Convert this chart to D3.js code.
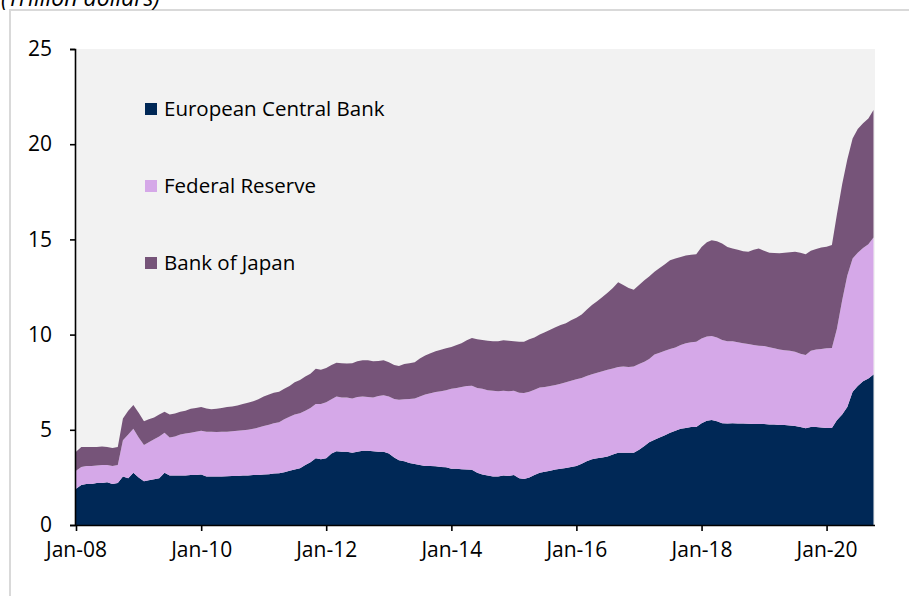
<!DOCTYPE html>
<html>
<head>
<meta charset="utf-8">
<script src="https://cdn.jsdelivr.net/npm/d3@7"></script>
<style>
  body { margin: 0; background: #fff; }
  svg { display: block; font-family: "Open Sans", "Noto Sans", sans-serif; }
</style>
</head>
<body>
<svg id="chart" width="909" height="596"></svg>
<script>
// monthly, Jan-08 .. Oct-20 (trillion dollars)
const startMonth = "2008-01";
const seriesNames = ["European Central Bank", "Federal Reserve", "Bank of Japan"];
const seriesColors = ["#002856", "#d5a8e8", "#765479"];

const ecb = [
  1.9, 2.1, 2.15, 2.15, 2.2, 2.2, 2.25, 2.15, 2.2, 2.55, 2.45, 2.75,
  2.5, 2.3, 2.35, 2.4, 2.45, 2.75, 2.6, 2.6, 2.6, 2.6, 2.62, 2.62,
  2.65, 2.55, 2.55, 2.55, 2.55, 2.56, 2.57, 2.58, 2.6, 2.6, 2.62, 2.63,
  2.65, 2.67, 2.7, 2.72, 2.77, 2.85, 2.92, 2.98, 3.15, 3.3, 3.5, 3.45,
  3.5, 3.75, 3.88, 3.85, 3.85, 3.8, 3.85, 3.9, 3.9, 3.88, 3.85, 3.85,
  3.75, 3.55, 3.4, 3.35, 3.25, 3.2, 3.15, 3.1, 3.1, 3.08, 3.05, 3.03,
  2.95, 2.95, 2.93, 2.92, 2.9, 2.75, 2.65, 2.6, 2.55, 2.55, 2.6, 2.58,
  2.62, 2.45, 2.42, 2.5, 2.62, 2.75, 2.8, 2.85, 2.92, 2.95, 3.0, 3.05,
  3.1, 3.22, 3.35, 3.45, 3.5, 3.55, 3.6, 3.7, 3.8, 3.8, 3.8, 3.8,
  3.95, 4.15, 4.35, 4.48, 4.6, 4.72, 4.85, 4.95, 5.05, 5.1, 5.15, 5.15,
  5.35, 5.48, 5.52, 5.45, 5.35, 5.33, 5.35, 5.33, 5.33, 5.32, 5.3, 5.3,
  5.3, 5.28, 5.28, 5.25, 5.25, 5.22, 5.2, 5.15, 5.08, 5.15, 5.15, 5.12,
  5.1, 5.1, 5.5, 5.8, 6.2, 7.0, 7.3, 7.55, 7.7, 7.9
];
const fed = [
  0.95, 0.95, 0.95, 0.95, 0.92, 0.95, 0.9, 0.95, 0.95, 1.9, 2.3, 2.3,
  2.1, 1.9, 2.0, 2.1, 2.2, 2.1, 2.0, 2.05, 2.15, 2.2, 2.23, 2.28,
  2.3, 2.35, 2.35, 2.33, 2.35, 2.34, 2.35, 2.37, 2.37, 2.4, 2.43, 2.49,
  2.55, 2.6, 2.65, 2.68, 2.78, 2.83, 2.88, 2.89, 2.85, 2.85, 2.85, 2.9,
  2.95, 2.85, 2.87, 2.85, 2.85, 2.85, 2.87, 2.85, 2.82, 2.82, 2.93, 2.97,
  3.0, 3.07, 3.18, 3.25, 3.37, 3.45, 3.6, 3.75, 3.82, 3.9, 3.97, 4.05,
  4.2, 4.25, 4.32, 4.38, 4.42, 4.45, 4.5, 4.48, 4.5, 4.48, 4.45, 4.45,
  4.43, 4.5, 4.51, 4.5, 4.48, 4.47, 4.45, 4.45, 4.43, 4.47, 4.5, 4.53,
  4.55, 4.5, 4.47, 4.47, 4.5, 4.53, 4.55, 4.52, 4.5, 4.52, 4.5, 4.52,
  4.5, 4.43, 4.37, 4.47, 4.45, 4.43, 4.4, 4.37, 4.4, 4.45, 4.45, 4.47,
  4.45, 4.42, 4.4, 4.4, 4.37, 4.32, 4.3, 4.27, 4.22, 4.18, 4.15, 4.12,
  4.1, 4.05, 4.0, 3.97, 3.93, 3.93, 3.9, 3.85, 3.85, 4.0, 4.07, 4.13,
  4.18, 4.2, 4.8, 6.0, 6.9, 7.0, 7.0, 7.0, 7.05, 7.2
];
const boj = [
  1.0, 1.05, 1.0, 1.0, 0.98, 0.97, 0.95, 0.95, 0.95, 1.15, 1.25, 1.25,
  1.3, 1.25, 1.2, 1.15, 1.15, 1.1, 1.2, 1.2, 1.2, 1.2, 1.25, 1.25,
  1.25, 1.22, 1.18, 1.22, 1.25, 1.3, 1.3, 1.33, 1.38, 1.42, 1.45, 1.48,
  1.55, 1.58, 1.6, 1.6, 1.6, 1.62, 1.7, 1.75, 1.8, 1.8, 1.85, 1.8,
  1.8, 1.8, 1.77, 1.8, 1.78, 1.85, 1.88, 1.9, 1.93, 1.9, 1.84, 1.83,
  1.8, 1.78, 1.77, 1.85, 1.88, 1.9, 2.0, 2.05, 2.1, 2.14, 2.18, 2.2,
  2.2, 2.25, 2.3, 2.4, 2.5, 2.55, 2.57, 2.6, 2.6, 2.62, 2.65, 2.65,
  2.6, 2.67, 2.69, 2.75, 2.75, 2.78, 2.87, 2.95, 3.03, 3.08, 3.1, 3.17,
  3.23, 3.33, 3.48, 3.63, 3.75, 3.9, 4.05, 4.23, 4.45, 4.28, 4.15, 4.03,
  4.15, 4.27, 4.33, 4.35, 4.45, 4.55, 4.65, 4.68, 4.63, 4.6, 4.6, 4.6,
  4.8, 4.95, 5.03, 5.05, 5.06, 4.95, 4.87, 4.85, 4.83, 4.85, 5.0, 5.1,
  5.0, 4.97, 5.0, 5.05, 5.12, 5.18, 5.25, 5.3, 5.29, 5.25, 5.28, 5.33,
  5.34, 5.4, 6.0, 6.1, 6.1, 6.3, 6.5, 6.55, 6.6, 6.7
];

const yTicks = [0, 5, 10, 15, 20, 25];
const xTickLabels = ["Jan-08", "Jan-10", "Jan-12", "Jan-14", "Jan-16", "Jan-18", "Jan-20"];

const svg = d3.select("#chart");
const parseMonth = d3.timeParse("%Y-%m");
const t0 = parseMonth(startMonth);

// build rows for the stack
const rows = ecb.map((v, i) => ({
  date: d3.timeMonth.offset(t0, i),
  ecb: v, fed: fed[i], boj: boj[i]
}));

const plot = { left: 76, right: 875, top: 49, bottom: 525 };

const x = d3.scaleTime()
  .domain([t0, rows[rows.length - 1].date])
  .range([plot.left, 873.5]);
const y = d3.scaleLinear().domain([0, 25]).range([plot.bottom, plot.top]);

// outer frame
svg.append("path")
  .attr("d", "M10,596 V10 H909")
  .attr("fill", "none")
  .attr("stroke", "#d9d9d9")
  .attr("stroke-width", 2);

// unit label, cut by the top edge as in the source
svg.append("text")
  .attr("x", 1).attr("y", 6)
  .attr("font-size", 23)
  .attr("font-style", "italic")
  .attr("fill", "#000")
  .text("(Trillion dollars)");

// plot background
svg.append("rect")
  .attr("x", plot.left).attr("y", plot.top)
  .attr("width", plot.right - plot.left)
  .attr("height", plot.bottom - plot.top)
  .attr("fill", "#f2f2f2");

const stack = d3.stack().keys(["ecb", "fed", "boj"]);
const layers = stack(rows);

const area = d3.area()
  .x(d => x(d.data.date))
  .y0(d => y(d[0]))
  .y1(d => y(d[1]));

svg.append("g")
  .selectAll("path")
  .data(layers)
  .join("path")
  .attr("d", area)
  .attr("fill", (d, i) => seriesColors[i]);

// Y axis
const yAxis = svg.append("g")
  .attr("transform", `translate(${plot.left - 1},0)`)
  .call(d3.axisLeft(y).tickValues(yTicks).tickSize(5).tickPadding(18));
yAxis.selectAll("text").attr("font-size", 21).attr("font-family", "Open Sans, sans-serif").attr("fill", "#000");
yAxis.selectAll("line,path").attr("stroke", "#000").attr("stroke-width", 1.6);

// X axis, ticks every two years
const xTickDates = xTickLabels.map(s => d3.timeParse("%b-%y")(s));
const xAxis = svg.append("g")
  .attr("transform", `translate(0,${plot.bottom})`)
  .call(d3.axisBottom(x).tickValues(xTickDates).tickSize(6).tickSizeOuter(0)
    .tickFormat((d, i) => xTickLabels[i]).tickPadding(11));
xAxis.select(".domain").attr("d", `M${plot.left - 1},0.5H${plot.right}`);
xAxis.selectAll("text").attr("font-size", 21).attr("font-family", "Open Sans, sans-serif").attr("fill", "#000");
xAxis.selectAll("line,path").attr("stroke", "#000").attr("stroke-width", 1.6);

// legend
const legend = svg.append("g");
seriesNames.forEach((name, i) => {
  const ly = 109 + i * 77;
  legend.append("rect")
    .attr("x", 145).attr("y", ly - 6)
    .attr("width", 12).attr("height", 12)
    .attr("fill", seriesColors[i]);
  legend.append("text")
    .attr("x", 164).attr("y", ly)
    .attr("dy", "0.35em")
    .attr("font-size", 20.5)
    .attr("fill", "#000")
    .text(name);
});
</script>
</body>
</html>
